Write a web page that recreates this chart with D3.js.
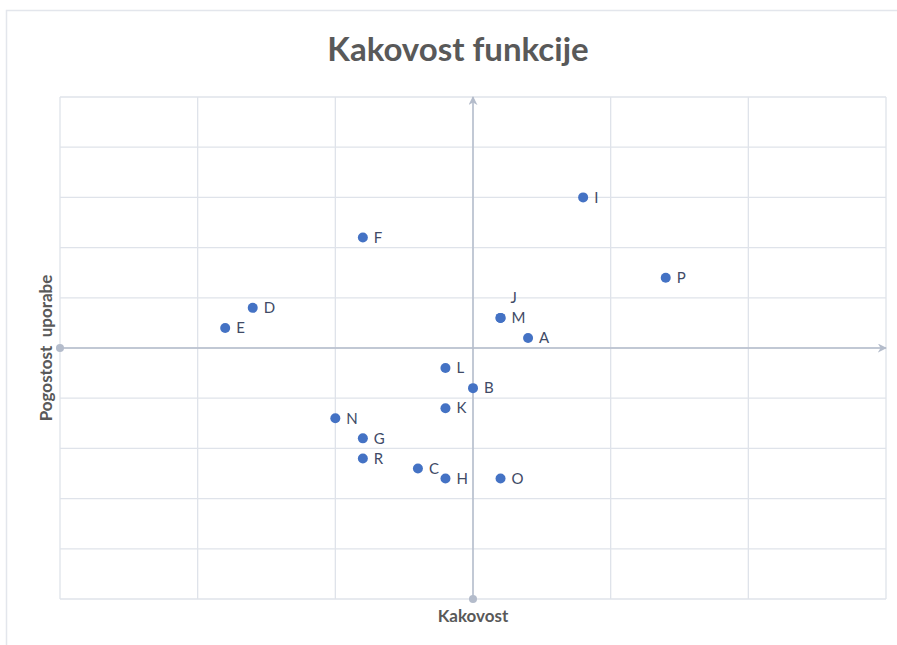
<!DOCTYPE html>
<html>
<head>
<meta charset="utf-8">
<script src="https://cdn.jsdelivr.net/npm/d3@7"></script>
<style>
  body { margin: 0; background: #fff; }
  svg { font-family: Lato, "Open Sans", sans-serif; }
</style>
</head>
<body>
<svg id="chart" width="897" height="645"></svg>
<script>
// data
var labels = ["A", "B", "C", "D", "E", "F", "G", "H", "I", "J", "K", "L", "M", "N", "O", "P", "R"];
var kakovost = [0.4, 0, -0.4, -1.6, -1.8, -0.8, -0.8, -0.2, 0.8, 0.2, -0.2, -0.2, 0.2, -1.0, 0.2, 1.4, -0.8];
var pogostost = [0.2, -0.8, -2.4, 0.8, 0.4, 2.2, -1.8, -2.6, 3.0, 0.6, -1.2, -0.4, 0.6, -1.4, -2.6, 1.4, -2.2];
var xTicks = [-3, -2, -1, 0, 1, 2, 3];
var yTicks = [-5, -4, -3, -2, -1, 0, 1, 2, 3, 4, 5];

var data = labels.map(function(d, i) {
  return {name: d, x: kakovost[i], y: pogostost[i]};
});

// set the dimensions and margins of the plot area
var margin = {top: 97, right: 11, bottom: 46, left: 60};
var width = 897 - margin.left - margin.right;
var height = 645 - margin.top - margin.bottom;

var svg = d3.select("#chart");

// chart border (cut off at right and bottom like the picture)
svg.append("path")
    .attr("d", "M6.5,660V10.5H910")
    .attr("fill", "none")
    .attr("stroke", "#e3e6ec")
    .attr("stroke-width", 1.5);

// title
svg.append("text")
    .attr("x", 458)
    .attr("y", 61)
    .attr("text-anchor", "middle")
    .attr("font-size", 33)
    .attr("font-weight", "bold")
    .attr("fill", "#595959")
    .text("Kakovost funkcije");

var g = svg.append("g")
    .attr("transform", "translate(" + margin.left + "," + margin.top + ")");

var x = d3.scaleLinear().domain([-3, 3]).range([0, width]);
var y = d3.scaleLinear().domain([-5, 5]).range([height, 0]);

// gridlines
g.append("g")
  .selectAll("line")
  .data(xTicks)
  .join("line")
    .attr("x1", function(d) { return x(d); })
    .attr("x2", function(d) { return x(d); })
    .attr("y1", 0)
    .attr("y2", height)
    .attr("stroke", "#dfe3ea")
    .attr("stroke-width", 1.3);

g.append("g")
  .selectAll("line")
  .data(yTicks)
  .join("line")
    .attr("y1", function(d) { return y(d); })
    .attr("y2", function(d) { return y(d); })
    .attr("x1", 0)
    .attr("x2", width)
    .attr("stroke", "#dfe3ea")
    .attr("stroke-width", 1.3);

// arrow head and round tail for the axes
var defs = svg.append("defs");
defs.append("marker")
    .attr("id", "arrow")
    .attr("viewBox", "0 0 10 10")
    .attr("refX", 9).attr("refY", 5)
    .attr("markerWidth", 9).attr("markerHeight", 9)
    .attr("markerUnits", "userSpaceOnUse")
    .attr("orient", "auto")
  .append("path")
    .attr("d", "M0,0L10,5L0,10L3,5Z")
    .attr("fill", "#b4bccb");
defs.append("marker")
    .attr("id", "dot")
    .attr("viewBox", "0 0 10 10")
    .attr("refX", 5).attr("refY", 5)
    .attr("markerWidth", 8).attr("markerHeight", 8)
    .attr("markerUnits", "userSpaceOnUse")
  .append("circle")
    .attr("cx", 5).attr("cy", 5).attr("r", 5)
    .attr("fill", "#b4bccb");

// x axis (horizontal line through y = 0)
g.append("line")
    .attr("x1", x(-3)).attr("x2", x(3))
    .attr("y1", y(0)).attr("y2", y(0))
    .attr("stroke", "#b4bccb")
    .attr("stroke-width", 1.5)
    .attr("marker-start", "url(#dot)")
    .attr("marker-end", "url(#arrow)");

// y axis (vertical line through x = 0)
g.append("line")
    .attr("x1", x(0)).attr("x2", x(0))
    .attr("y1", y(-5)).attr("y2", y(5))
    .attr("stroke", "#b4bccb")
    .attr("stroke-width", 1.5)
    .attr("marker-start", "url(#dot)")
    .attr("marker-end", "url(#arrow)");

// points
g.append("g")
  .selectAll("circle")
  .data(data)
  .join("circle")
    .attr("cx", function(d) { return x(d.x); })
    .attr("cy", function(d) { return y(d.y); })
    .attr("r", 5)
    .attr("fill", "#4472c4");

// data labels (J sits on top of M, its label is lifted)
g.append("g")
  .selectAll("text")
  .data(data)
  .join("text")
    .attr("x", function(d) { return x(d.x) + (d.name == "J" ? 10 : 11); })
    .attr("y", function(d) { return y(d.y) + (d.name == "J" ? -20 : 0); })
    .attr("dy", "0.35em")
    .attr("font-size", 15)
    .attr("fill", "#404a66")
    .text(function(d) { return d.name; });

// axis titles
svg.append("text")
    .attr("x", margin.left + x(0))
    .attr("y", 622)
    .attr("text-anchor", "middle")
    .attr("font-size", 17)
    .attr("font-weight", "bold")
    .attr("fill", "#595959")
    .text("Kakovost");

svg.append("text")
    .attr("transform", "translate(52," + (margin.top + y(0)) + ") rotate(-90)")
    .attr("text-anchor", "middle")
    .attr("font-size", 17)
    .attr("font-weight", "bold")
    .attr("fill", "#595959")
    .attr("xml:space", "preserve")
    .style("white-space", "pre")
    .text("Pogostost  uporabe");
</script>
</body>
</html>
